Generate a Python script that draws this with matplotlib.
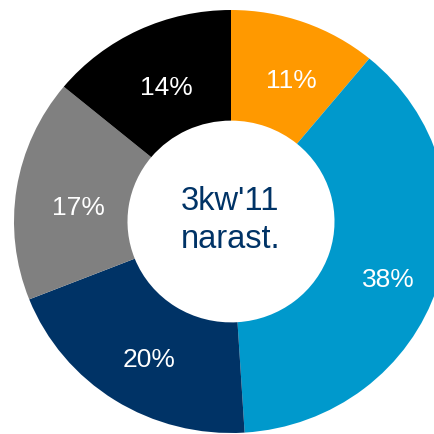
import matplotlib
matplotlib.use("Agg")
import matplotlib.pyplot as plt

labels = ["A", "B", "C", "D", "E"]
values = [11, 38, 20, 17, 14]
pct_labels = ["11%", "38%", "20%", "17%", "14%"]
colors = ["#FF9900", "#0099CC", "#003366", "#808080", "#000000"]
center_lines = ["3kw'11", "narast."]

plt.rcParams['font.family'] = ['Liberation Sans', 'DejaVu Sans']

# label anchor points (baseline, horizontal centre) in axes data units
label_pos = [(0.279, 0.631), (0.726, -0.310), (-0.378, -0.688),
             (-0.705, 0.031), (-0.300, 0.598)]
center_pos = [(-0.005, 0.054), (0.0, -0.125)]

fig = plt.figure(figsize=(4.34, 4.34), dpi=100)
ax = fig.add_axes([0, 0, 1, 1])
wedges, _ = ax.pie(values, colors=colors, startangle=90, counterclock=False,
                   radius=1.0, wedgeprops=dict(width=0.523, linewidth=0))
for (x, y), lab in zip(label_pos, pct_labels):
    ax.text(x, y, lab, ha="center", va="baseline", color="white", fontsize=19)
for (x, y), line in zip(center_pos, center_lines):
    ax.text(x, y, line, ha="center", va="baseline", color="#003366",
            fontsize=23.5)
ax.set_xlim(-1.0645, 0.9355)
ax.set_ylim(-1.0047, 1.0473)
ax.set_aspect("auto")
ax.axis("off")
fig.savefig("out.png", dpi=100)
